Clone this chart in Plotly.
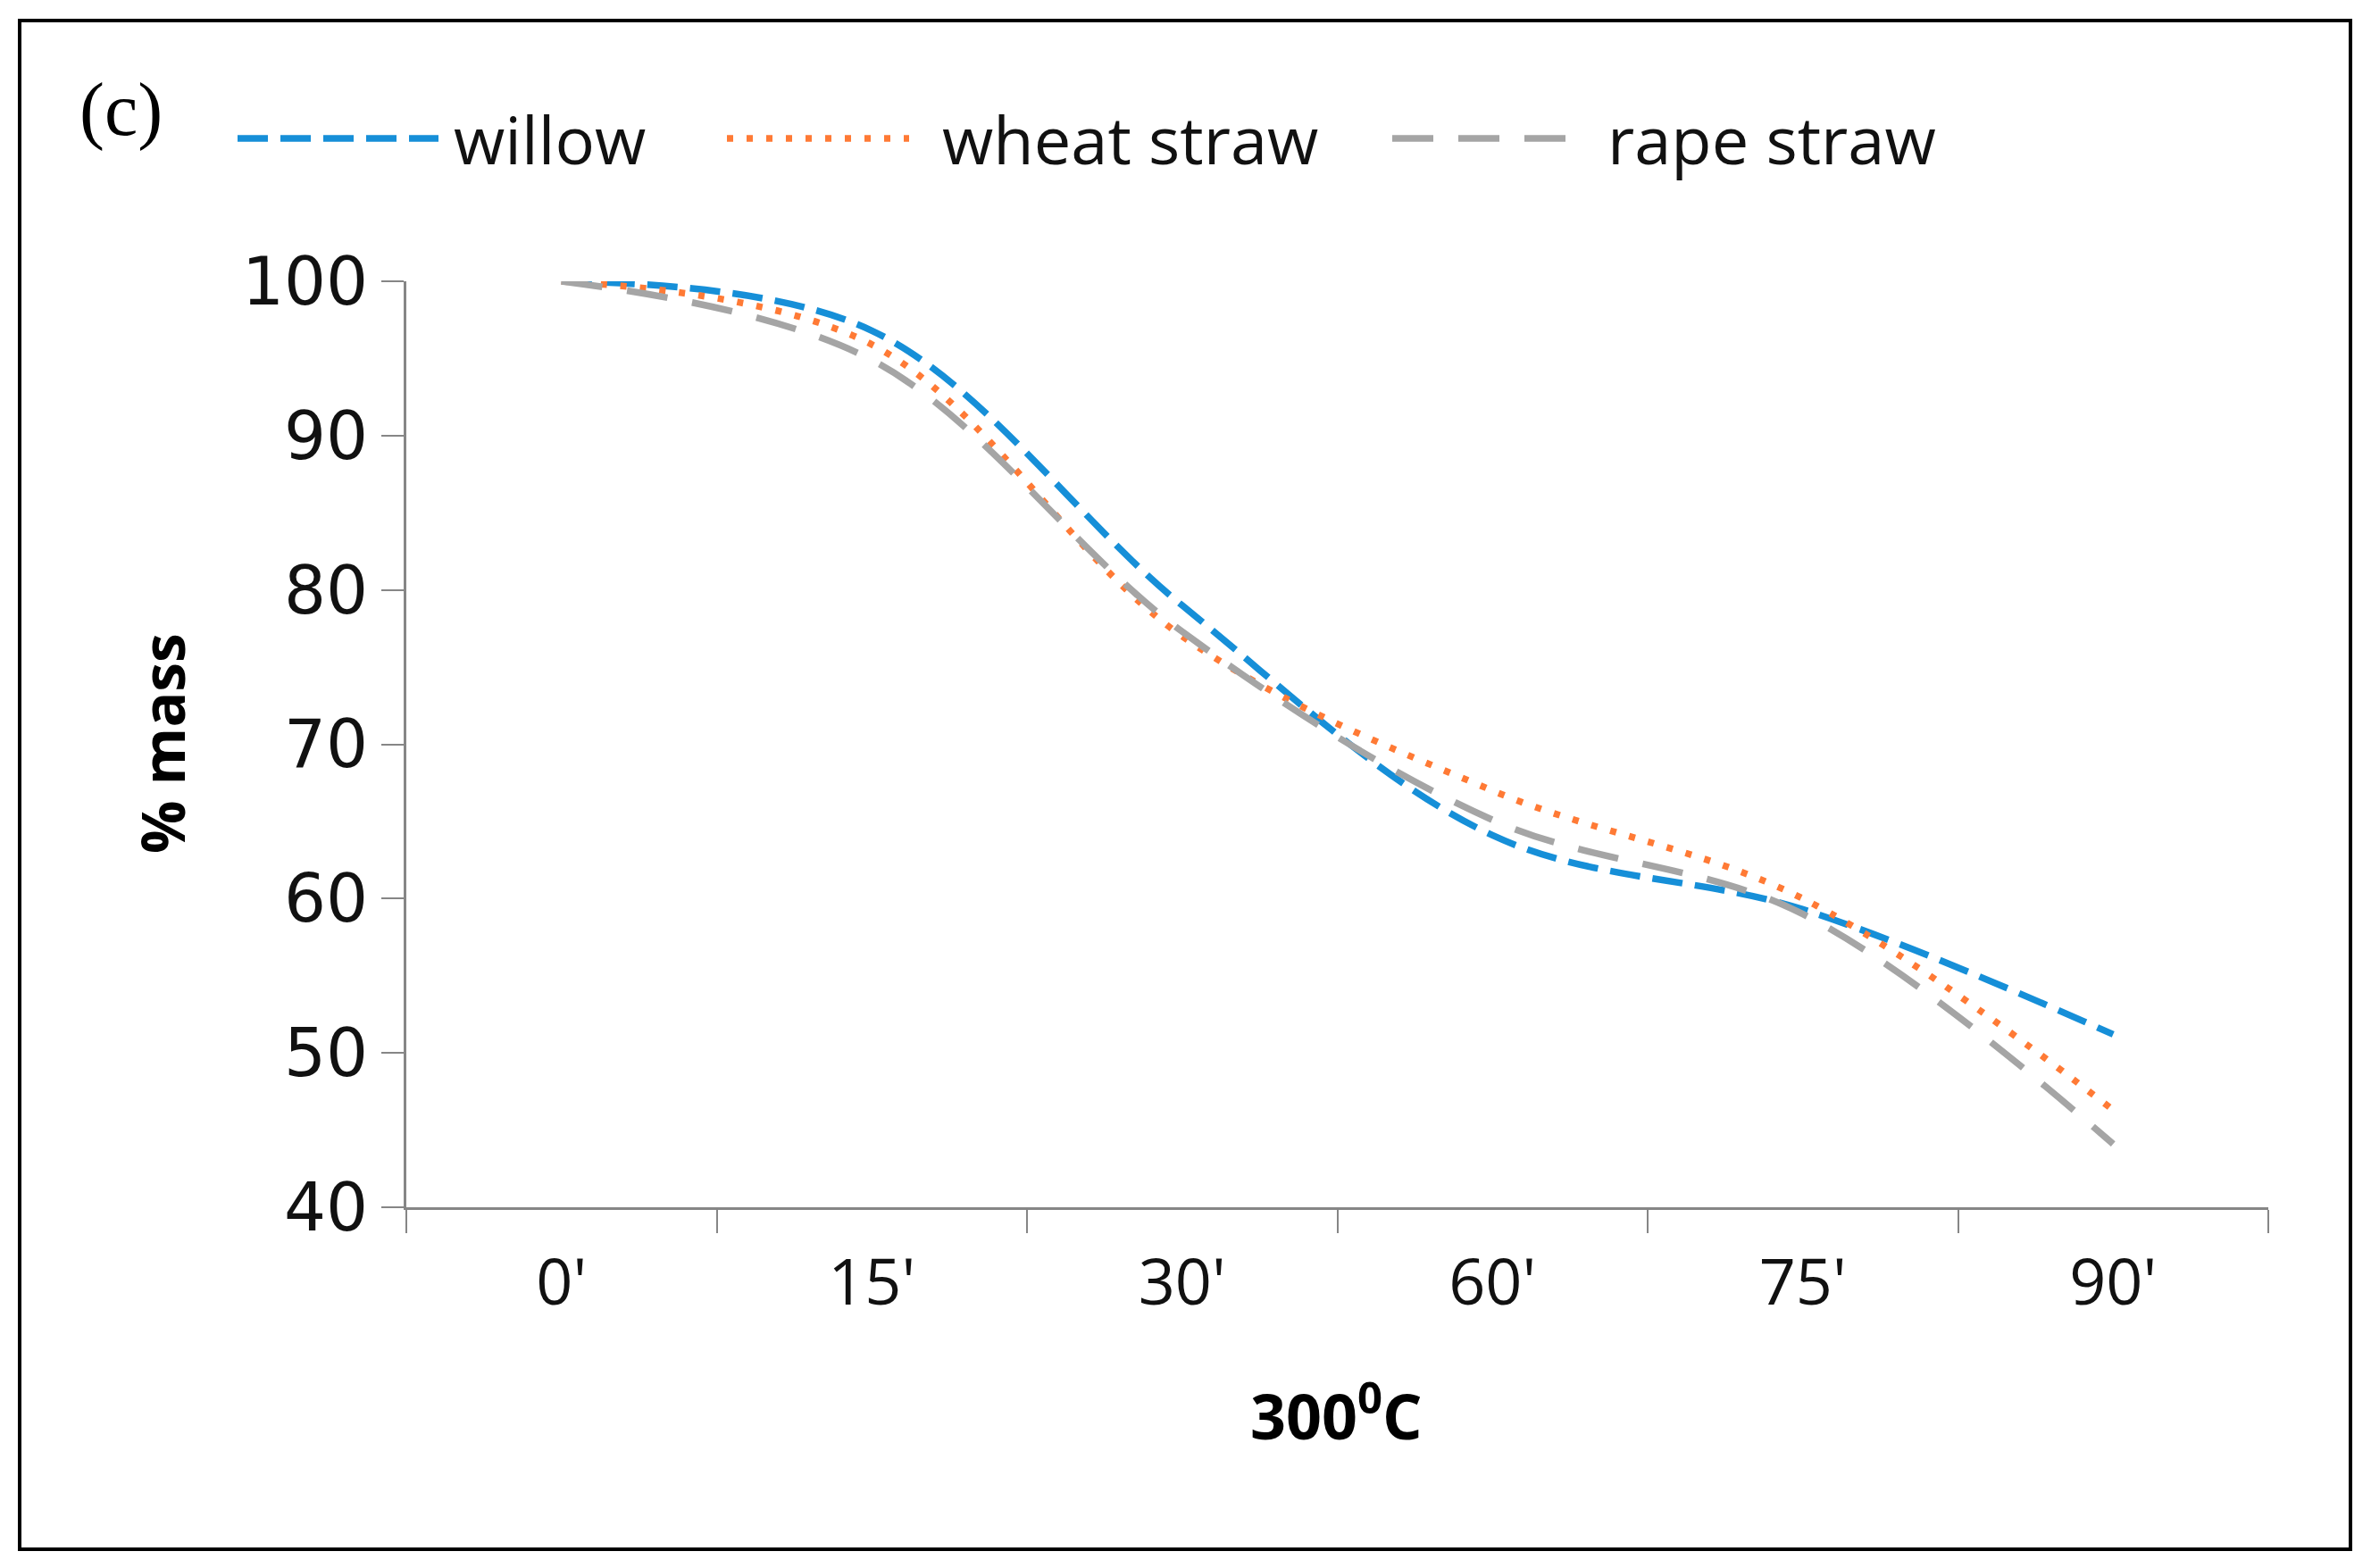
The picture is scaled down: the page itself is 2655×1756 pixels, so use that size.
import plotly.graph_objects as go

# ---- data ----
categories = ["0'", "15'", "30'", "60'", "75'", "90'"]
willow = [100, 96.8, 79.0, 64.1, 59.3, 51.2]
wheat_straw = [100, 95.9, 77.0, 67.0, 60.0, 46.3]
rape_straw = [100, 94.9, 77.3, 65.1, 59.0, 44.1]
series_names = ["willow", "wheat straw", "rape straw"]
y_ticks = [40, 50, 60, 70, 80, 90, 100]

# ---- styles ----
W, H = 2655, 1756
L, R, T, B = 455, 2540, 315, 1352  # plot area in px
colors = ["#168FD8", "#FF7A35", "#A5A5A5"]
dashes = ["34px,14px", "7px,15px", "46px,28px"]
LW = 7.5
AX = "#868686"


def px(x):
    return (x - L) / (R - L)


def py(y):
    return (B - y) / (B - T)


fig = go.Figure()
for name, vals, c, d in zip(series_names, [willow, wheat_straw, rape_straw], colors, dashes):
    fig.add_trace(go.Scatter(
        x=categories, y=vals, name=name, mode="lines",
        line=dict(color=c, width=LW, dash=d, shape="spline", smoothing=1.0),
        showlegend=False,
    ))

shapes = []
annotations = []

# outer black frame
shapes.append(dict(type="rect", xref="paper", yref="paper",
                   x0=px(22), x1=px(2632), y0=py(1735), y1=py(23),
                   line=dict(color="black", width=4), layer="below"))

# manual legend
leg_y = py(155)
leg_items = [(266, 491, 506), (814, 1018, 1053), (1559, 1769, 1798)]
for (x0, x1, tx), name, c, d in zip(leg_items, series_names, colors, dashes):
    shapes.append(dict(type="line", xref="paper", yref="paper",
                       x0=px(x0), x1=px(x1), y0=leg_y, y1=leg_y,
                       line=dict(color=c, width=LW, dash=d)))
    annotations.append(dict(text=name, xref="paper", yref="paper",
                            x=px(tx), y=leg_y, xanchor="left", yanchor="middle",
                            showarrow=False,
                            font=dict(family="Open Sans", size=74, color="#111111")))

# panel label
annotations.append(dict(text="(c)", xref="paper", yref="paper",
                        x=px(135), y=py(123), xanchor="center", yanchor="middle",
                        showarrow=False,
                        font=dict(family="Liberation Serif", size=84, color="black")))

# axis titles
annotations.append(dict(text="<b>% mass</b>", xref="paper", yref="paper",
                        x=px(181), y=py(833), xanchor="center", yanchor="middle",
                        textangle=-90, showarrow=False,
                        font=dict(family="Open Sans", size=66, color="black")))
annotations.append(dict(text="<b>300<sup>0</sup>C</b>", xref="paper", yref="paper",
                        x=px(1496), y=py(1582), xanchor="center", yanchor="middle",
                        showarrow=False,
                        font=dict(family="Open Sans", size=70, color="black")))

fig.update_layout(
    width=W, height=H,
    margin=dict(l=L, r=W - R, t=T, b=H - B, pad=0),
    paper_bgcolor="white", plot_bgcolor="white",
    shapes=shapes, annotations=annotations,
    showlegend=False,
)
fig.update_xaxes(
    type="category", categoryorder="array", categoryarray=categories,
    range=[-0.5, 5.5], tickson="boundaries",
    showline=True, linecolor=AX, linewidth=3,
    ticks="outside", ticklen=26, tickwidth=2, tickcolor=AX,
    showgrid=False, zeroline=False,
    tickfont=dict(family="Open Sans", size=72, color="#111111"),
    ticklabelstandoff=20,
)
fig.update_yaxes(
    range=[40, 100], tickvals=y_ticks,
    showline=True, linecolor=AX, linewidth=3,
    ticks="outside", ticklen=25, tickwidth=2, tickcolor=AX,
    showgrid=False, zeroline=False,
    tickfont=dict(family="DejaVu Sans", size=74, color="#111111"),
)

fig.write_html("out.html", config={"displayModeBar": False},
               post_script="document.body.style.margin='0';")
